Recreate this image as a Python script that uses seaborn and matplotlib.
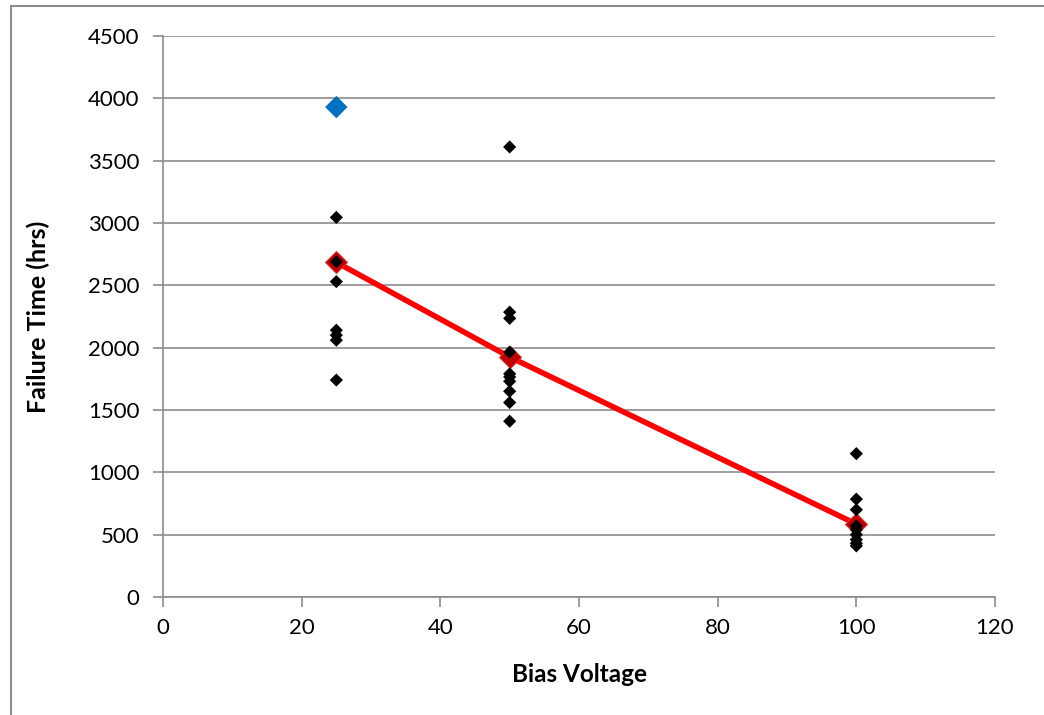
import matplotlib
matplotlib.use("Agg")
import matplotlib.pyplot as plt
import seaborn as sns
import pandas as pd
from matplotlib.patches import Rectangle
from matplotlib.ticker import MultipleLocator

# Data
v25 = [3045, 2690, 2530, 2140, 2100, 2060, 1740]
v50 = [3610, 2285, 2235, 1965, 1790, 1765, 1730, 1650, 1560, 1410]
v100 = [1150, 785, 700, 570, 540, 500, 460, 430, 410]
outlier_x = [25]
outlier_y = [3930]
fit_x = [25, 50, 100]
fit_y = [2685, 1925, 585]

xs = [25] * len(v25) + [50] * len(v50) + [100] * len(v100)
ys = v25 + v50 + v100
pts = pd.DataFrame({"Bias Voltage": xs, "Failure Time (hrs)": ys})
fit = pd.DataFrame({"Bias Voltage": fit_x, "Failure Time (hrs)": fit_y})
out = pd.DataFrame({"Bias Voltage": outlier_x, "Failure Time (hrs)": outlier_y})

sns.set_theme(style="white")
plt.rcParams["font.family"] = ["Lato", "DejaVu Sans"]

fig = plt.figure(figsize=(10.44, 7.15), dpi=100)
ax = fig.add_axes([163 / 1044, 1 - 597 / 715, (995 - 163) / 1044, (597 - 36) / 715])

sns.lineplot(data=fit, x="Bias Voltage", y="Failure Time (hrs)", ax=ax,
             color="#ff0000", linewidth=4, marker="D", markersize=11,
             markeredgecolor="#e03030", markerfacecolor="#c00000", zorder=3)
sns.scatterplot(data=pts, x="Bias Voltage", y="Failure Time (hrs)", ax=ax,
                color="black", marker="D", s=45, edgecolor="none", zorder=4)
sns.scatterplot(data=out, x="Bias Voltage", y="Failure Time (hrs)", ax=ax,
                color="#0070c0", marker="D", s=130, edgecolor="none", zorder=4)

ax.set_xlim(0, 120)
ax.set_ylim(0, 4500)
ax.xaxis.set_major_locator(MultipleLocator(20))
ax.yaxis.set_major_locator(MultipleLocator(500))
ax.grid(axis="y", color="#8c8c8c", linewidth=1.2)
ax.set_axisbelow(True)
for s in ["top", "right"]:
    ax.spines[s].set_visible(False)
for s in ["left", "bottom"]:
    ax.spines[s].set_color("#8c8c8c")
    ax.spines[s].set_linewidth(1.2)
ax.tick_params(axis="both", which="major", length=7, width=1.2, color="#8c8c8c",
               labelsize=16, labelcolor="black", direction="out",
               bottom=True, left=True)
ax.tick_params(axis="y", pad=10)
ax.tick_params(axis="x", pad=8)
ax.set_xlabel("Bias Voltage", fontsize=17.5, fontweight="bold", labelpad=18,
              color="black")
ax.set_ylabel("Failure Time (hrs)", fontsize=18, fontweight="bold", labelpad=27,
              color="black")

fig.patches.append(Rectangle((10.5 / 1044, -0.01), 1.1, 1 - 6.5 / 715 + 0.01,
                             transform=fig.transFigure, fill=False,
                             edgecolor="#8c8c8c", linewidth=1.5))

fig.savefig("out.png", dpi=100)
